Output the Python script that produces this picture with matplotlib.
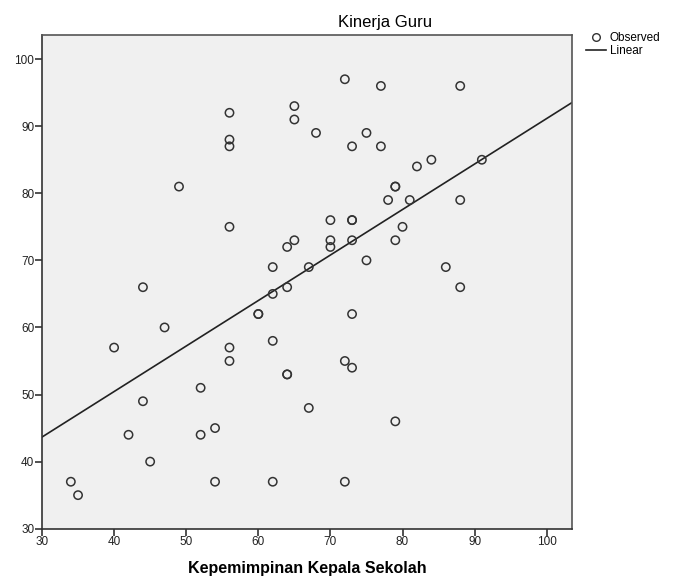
import numpy as np
import matplotlib
matplotlib.use("Agg")
import matplotlib.pyplot as plt
from matplotlib.lines import Line2D

# Kepemimpinan Kepala Sekolah (x) vs Kinerja Guru (y)
kepemimpinan = [34, 35, 40, 42, 44, 44, 45, 47, 49, 52, 52, 54, 54,
                56, 56, 56, 56, 56, 56, 60, 60, 62, 62, 62, 62,
                64, 64, 64, 64, 65, 65, 65, 67, 67, 68, 70, 70, 70,
                72, 72, 72, 73, 73, 73, 73, 73, 73, 75, 75, 77, 77,
                78, 79, 79, 79, 79, 80, 81, 82, 84, 86, 88, 88, 88, 91]
kinerja = [37, 35, 57, 44, 66, 49, 40, 60, 81, 51, 44, 45, 37,
           92, 88, 87, 75, 57, 55, 62, 62, 69, 65, 58, 37,
           72, 66, 53, 53, 93, 91, 73, 69, 48, 89, 76, 73, 72,
           97, 55, 37, 87, 76, 76, 73, 62, 54, 89, 70, 96, 87,
           79, 81, 81, 73, 46, 75, 79, 84, 85, 69, 96, 79, 66, 85]

x_ticks = [30, 40, 50, 60, 70, 80, 90, 100]
y_ticks = [30, 40, 50, 60, 70, 80, 90, 100]

plt.rcParams['font.family'] = ['Liberation Sans', 'DejaVu Sans']

fig = plt.figure(figsize=(6.73, 5.82), dpi=100)
ax = fig.add_axes([0.0624, 0.0916, 0.7875, 0.8483])
ax.set_facecolor('#f0f0f0')

x = np.array(kepemimpinan, dtype=float)
y = np.array(kinerja, dtype=float)

ax.scatter(x, y, s=36, facecolors='none', edgecolors='#333333', linewidths=1.1, zorder=3)

# linear fit
slope, intercept = np.polyfit(x, y, 1)
xl = np.array([30, 103.5])
ax.plot(xl, intercept + slope * xl, color='#222222', linewidth=1.2, zorder=2)

ax.set_xlim(30, 103.5)
ax.set_ylim(30, 103.6)
ax.set_xticks(x_ticks)
ax.set_yticks(y_ticks)
ax.tick_params(direction='out', length=5, width=1.2, color='#333333',
               labelsize=8.5, labelcolor='#222222', pad=0.5)
for s in ax.spines.values():
    s.set_color('#555555')
    s.set_linewidth(1.2)
for s in ('left', 'bottom'):
    ax.spines[s].set_color('#333333')

ax.set_xlabel('Kepemimpinan Kepala Sekolah', fontsize=11.5, fontweight='bold', labelpad=9)
fig.text(0.572, 0.962, 'Kinerja Guru', fontsize=12, ha='center', va='center')

handles = [Line2D([], [], marker='o', linestyle='none', markerfacecolor='none',
                  markeredgecolor='#333333', markersize=5.5),
           Line2D([], [], color='#222222', linewidth=1.2)]
fig.legend(handles, ['Observed', 'Linear'], loc='upper left',
           bbox_to_anchor=(0.862, 0.955), frameon=False, fontsize=8.5,
           handlelength=1.7, handletextpad=0.3, labelspacing=0.1, borderpad=0)

fig.savefig('out.png', dpi=100)
